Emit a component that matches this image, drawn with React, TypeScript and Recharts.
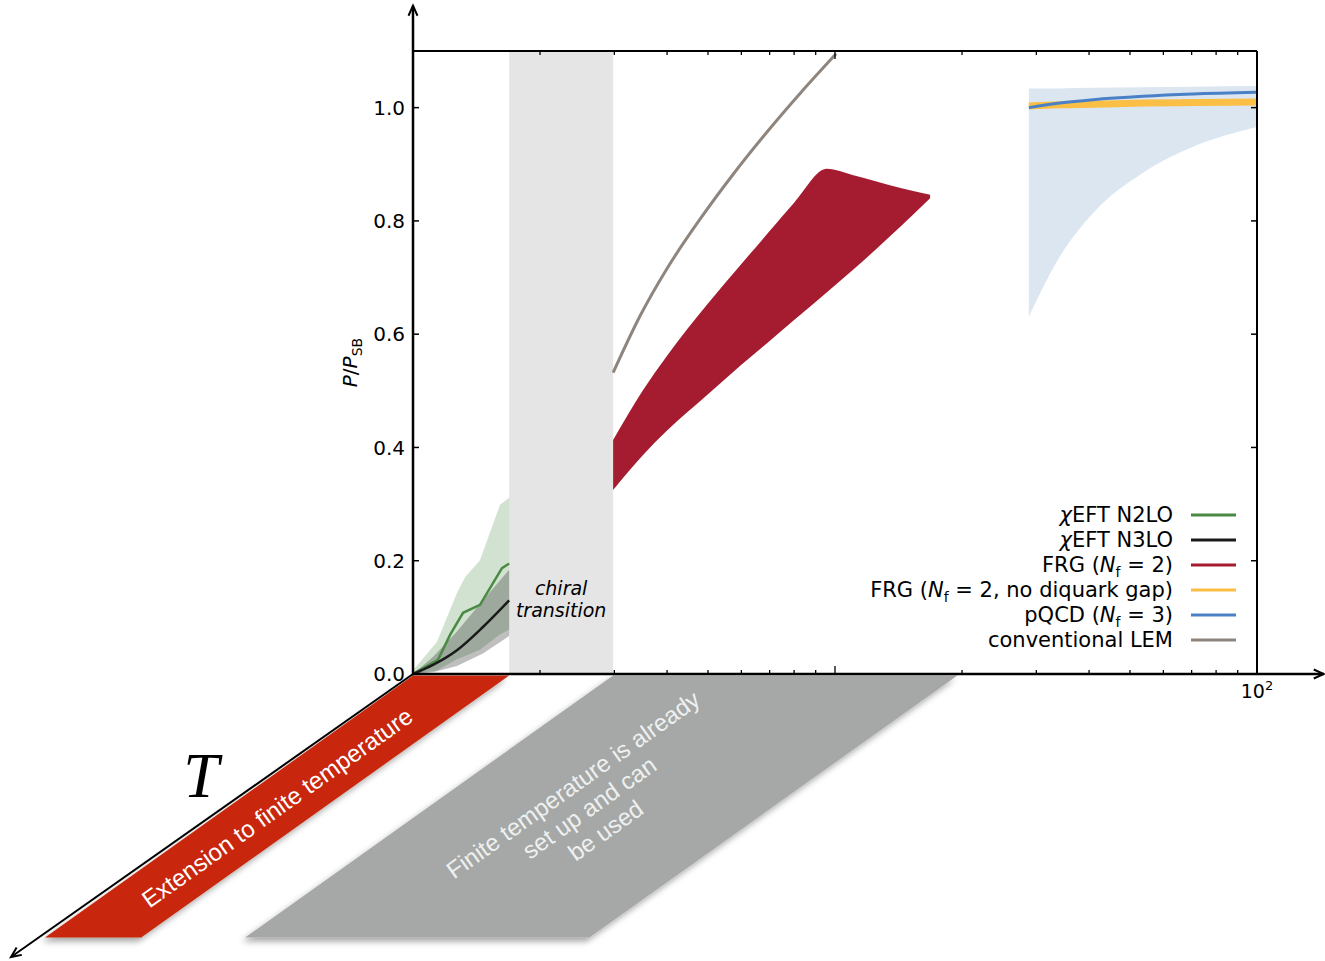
import React from "react";
import {
  Area,
  ComposedChart,
  Customized,
  Line,
  ReferenceArea,
  ReferenceDot,
  ReferenceLine,
  XAxis,
  YAxis,
} from "recharts";

const FONT = "DejaVu Sans";

// axes
const xTicks = [2, 3, 4, 5, 6, 7, 8, 9, 10, 20, 30, 40, 50, 60, 70, 80, 90, 100];
const yTicks = [0, 0.2, 0.4, 0.6, 0.8, 1.0];
const CHIRAL = [1.69, 2.98];
const RED_SLAB = [1, 1.69];
const GRAY_SLAB = [2.98, 19.5];
const SHEAR = { dx: -368, dy: 262 }; // the "T" direction of the slabs

// chiEFT N2LO
const n2loX = [1, 1.146, 1.224, 1.314, 1.441, 1.625, 1.69];
const n2loMid = [0, 0.025, 0.069, 0.108, 0.122, 0.187, 0.195];
const n2loBandX = [1, 1.14, 1.271, 1.328, 1.441, 1.608, 1.69];
const n2loLo = [0, 0.006, 0.026, 0.032, 0.043, 0.07, 0.078];
const n2loHi = [0.006, 0.057, 0.143, 0.171, 0.201, 0.299, 0.311];

// chiEFT N3LO
const n3loX = [1, 1.115, 1.271, 1.465, 1.69];
const n3loMid = [0, 0.016, 0.042, 0.083, 0.13];
const n3loLo = [0, 0.003, 0.014, 0.036, 0.067];
const n3loHi = [0, 0.03, 0.075, 0.13, 0.184];

// FRG (Nf = 2)
const frgX = [2.98, 3.5, 4, 5, 6, 7, 8, 9.57, 11, 12.6, 14.3, 16.8];
const frgLo = [0.325, 0.386, 0.43, 0.494, 0.546, 0.588, 0.625, 0.674, 0.713, 0.752, 0.79, 0.84];
const frgHi = [0.413, 0.5, 0.562, 0.654, 0.724, 0.782, 0.832, 0.892, 0.881, 0.869, 0.858, 0.846];

// conventional LEM
const lemX = [2.98, 3.451, 4.0, 4.788, 5.732, 6.901, 8.264, 10.06];
const lemY = [0.532, 0.632, 0.716, 0.803, 0.882, 0.957, 1.025, 1.095];

// pQCD (Nf = 3) and FRG without diquark gap
const pqcdX = [28.8, 34.1, 40.9, 53.7, 70.5, 100];
const pqcdLo = [0.631, 0.737, 0.814, 0.885, 0.931, 0.966];
const pqcdHi = [1.034, 1.034, 1.035, 1.036, 1.037, 1.038];
const pqcdMid = [1.0, 1.008, 1.014, 1.02, 1.024, 1.027];
const noGapY = [1.003, 1.005, 1.006, 1.008, 1.009, 1.01];

const COLORS = {
  n2lo: "#4b8a44",
  n3lo: "#1a1a1a",
  frg: "#a51c30",
  noGap: "#fbbf45",
  pqcd: "#4a81c6",
  lem: "#8f857d",
};

const line = (xs: number[], ys: number[]) => xs.map((x, i) => ({ x, y: ys[i] }));
const band = (xs: number[], lo: number[], hi: number[]) =>
  xs.map((x, i) => ({ x, v: [lo[i], hi[i]] }));

const n2loLine = line(n2loX, n2loMid);
const n2loBand = band(n2loBandX, n2loLo, n2loHi);
const n3loLine = line(n3loX, n3loMid);
const n3loBand = band(n3loX, n3loLo, n3loHi);
const frgBand = band(frgX, frgLo, frgHi);
const lemLine = line(lemX, lemY);
const pqcdBand = band(pqcdX, pqcdLo, pqcdHi);
const pqcdLine = line(pqcdX, pqcdMid);
const noGapLine = line(pqcdX, noGapY);

const isDecade = (v: number) => Math.abs(Math.log10(v) - Math.round(Math.log10(v))) < 1e-9;

function BottomTick(p: any) {
  const { x, y, payload } = p;
  const v = payload.value;
  return (
    <g>
      <line x1={x} x2={x} y1={y} y2={y - (isDecade(v) ? 8 : 4)} stroke="#000" strokeWidth={1.3} />
      {v === 100 && (
        <text x={x} y={y + 24} textAnchor="middle" fontSize={19} fontFamily={FONT} fill="#000">
          10
          <tspan dy={-8} fontSize={13}>
            2
          </tspan>
        </text>
      )}
    </g>
  );
}

function TopTick(p: any) {
  const { x, y, payload } = p;
  return <line x1={x} x2={x} y1={y} y2={y + (isDecade(payload.value) ? 8 : 4)} stroke="#000" strokeWidth={1.3} />;
}

function LeftTick(p: any) {
  const { x, y, payload } = p;
  return (
    <g>
      <line x1={x} x2={x + 6} y1={y} y2={y} stroke="#000" strokeWidth={1.5} />
      <text x={x - 8} y={y} dy="0.36em" textAnchor="end" fontSize={20} fontFamily={FONT} fill="#000">
        {payload.value.toFixed(1)}
      </text>
    </g>
  );
}

function RightTick(p: any) {
  const { x, y } = p;
  return <line x1={x} x2={x - 6} y1={y} y2={y} stroke="#000" strokeWidth={1.5} />;
}

function YLabel(p: any) {
  const vb = p.viewBox;
  const cx = vb.x + 4;
  const cy = vb.y + vb.height / 2;
  return (
    <text transform={`translate(${cx},${cy}) rotate(-90)`} textAnchor="middle" fontSize={20} fontFamily={FONT} fill="#000">
      <tspan fontStyle="italic">P</tspan>/<tspan fontStyle="italic">P</tspan>
      <tspan fontSize={14} dy={5}>
        SB
      </tspan>
    </text>
  );
}

function arrowHead(x1: number, y1: number, x2: number, y2: number, size = 11) {
  const a = Math.atan2(y2 - y1, x2 - x1);
  const s = 0.42;
  const p1 = [x2 - size * Math.cos(a - s), y2 - size * Math.sin(a - s)];
  const p2 = [x2 - size * Math.cos(a + s), y2 - size * Math.sin(a + s)];
  return `M${p1[0]},${p1[1]} L${x2},${y2} L${p2[0]},${p2[1]}`;
}

function ArrowAxis(p: any) {
  const { x1, y1, x2, y2 } = p;
  return (
    <g>
      <line x1={x1} y1={y1} x2={x2} y2={y2} stroke="#000" strokeWidth={2.5} />
      <path d={arrowHead(x1, y1, x2, y2)} fill="none" stroke="#000" strokeWidth={2} />
    </g>
  );
}

function FrameLine(p: any) {
  const { x1, y1, x2, y2 } = p;
  return <line x1={x1} y1={y1} x2={x2} y2={y2} stroke="#000" strokeWidth={2} />;
}

function TAxis(p: any) {
  const { cx, cy } = p;
  const ex = cx - 402;
  const ey = cy + 283;
  return (
    <g>
      <line x1={cx} y1={cy} x2={ex} y2={ey} stroke="#000" strokeWidth={2} />
      <path d={arrowHead(cx, cy, ex, ey)} fill="none" stroke="#000" strokeWidth={2} />
      <text x={cx - 212} y={cy + 123} textAnchor="middle" fontSize={64} fontStyle="italic" fontFamily="Liberation Serif" fill="#000">
        T
      </text>
    </g>
  );
}

const SLOPE = (Math.atan2(SHEAR.dy, -SHEAR.dx) * 180) / Math.PI;

function makeSlab(id: string, fill: string, textFill: string, lines: string[], shift: number) {
  return function Slab(p: any) {
    const { x, width } = p;
    const top = p.y + p.height + 1.5;
    const pts = [
      [x, top],
      [x + width, top],
      [x + width + SHEAR.dx, top + SHEAR.dy],
      [x + SHEAR.dx, top + SHEAR.dy],
    ];
    const cx = x + width / 2 + SHEAR.dx / 2 + shift;
    const cy = top + SHEAR.dy / 2 + 1;
    const lh = 28;
    return (
      <g>
        <defs>
          <filter id={id} x="-20%" y="-20%" width="140%" height="140%">
            <feDropShadow dx={-3} dy={4} stdDeviation={3} floodColor="#000" floodOpacity={0.35} />
          </filter>
        </defs>
        <polygon points={pts.map((q) => q.join(",")).join(" ")} fill={fill} filter={`url(#${id})`} />
        <text
          transform={`translate(${cx},${cy}) rotate(${-SLOPE})`}
          textAnchor="middle"
          fontSize={24}
          fontFamily="Liberation Sans"
          fill={textFill}
        >
          {lines.map((t, i) => (
            <tspan key={t} x={0} y={(i - (lines.length - 1) / 2) * lh} dominantBaseline="central">
              {t}
            </tspan>
          ))}
        </text>
      </g>
    );
  };
}

const RedSlab = makeSlab("shadowRed", "#c8280a", "#ffffff", ["Extension to finite temperature"], 0);
const GraySlab = makeSlab(
  "shadowGray",
  "#a5a8a7",
  "#eef0ef",
  ["Finite temperature is already", "set up and can", "be used"],
  -12
);

function ChiralBand(p: any) {
  const { x, y, width, height } = p;
  const cx = x + width / 2;
  const bottom = y + height;
  return (
    <g>
      <rect x={x} y={y} width={width} height={height} fill="#e5e5e5" />
      <text x={cx} y={bottom - 79} textAnchor="middle" fontSize={19} fontStyle="italic" fontFamily={FONT} fill="#000">
        chiral
      </text>
      <text x={cx} y={bottom - 57} textAnchor="middle" fontSize={19} fontStyle="italic" fontFamily={FONT} fill="#000">
        transition
      </text>
    </g>
  );
}

const Nf = ({ rest }: { rest: string }) => (
  <>
    <tspan fontStyle="italic">N</tspan>
    <tspan fontSize={14} dy={5}>
      f
    </tspan>
    <tspan dy={-5}>{rest}</tspan>
  </>
);

const legendLabels = [
  <>
    <tspan fontStyle="italic">χ</tspan>EFT N2LO
  </>,
  <>
    <tspan fontStyle="italic">χ</tspan>EFT N3LO
  </>,
  <>
    FRG (<Nf rest={" = 2)"} />
  </>,
  <>
    FRG (<Nf rest={" = 2, no diquark gap)"} />
  </>,
  <>
    pQCD (<Nf rest={" = 3)"} />
  </>,
  <>conventional LEM</>,
];
const legendColors = [COLORS.n2lo, COLORS.n3lo, COLORS.frg, COLORS.noGap, COLORS.pqcd, COLORS.lem];

function LegendBlock() {
  const x = 1173;
  const y0 = 515;
  return (
    <g>
      {legendLabels.map((lab, i) => (
        <g key={i}>
          <text x={x} y={y0 + i * 25 + 7} textAnchor="end" fontSize={21} fontFamily={FONT} fill="#000">
            {lab}
          </text>
          <line x1={1191} x2={1236} y1={y0 + i * 25} y2={y0 + i * 25} stroke={legendColors[i]} strokeWidth={3} />
        </g>
      ))}
    </g>
  );
}

export default function App() {
  const ax = { xAxisId: "b", yAxisId: "l" };
  return (
    <div style={{ position: "absolute", left: 0, top: 0, width: 1325, height: 961, background: "#fff" }}>
      <ComposedChart width={1325} height={961} margin={{ top: 50, right: 67, bottom: 257, left: 353 }}>
        <XAxis
          xAxisId="b"
          dataKey="x"
          type="number"
          scale="log"
          domain={[1, 100]}
          allowDataOverflow
          ticks={xTicks}
          interval={0}
          tickSize={0}
          tickMargin={0}
          axisLine={false}
          tickLine={false}
          tick={BottomTick}
          height={30}
        />
        <XAxis
          xAxisId="t"
          orientation="top"
          dataKey="x"
          type="number"
          scale="log"
          domain={[1, 100]}
          allowDataOverflow
          ticks={xTicks}
          interval={0}
          tickSize={0}
          tickMargin={0}
          axisLine={false}
          tickLine={false}
          tick={TopTick}
          height={1}
        />
        <YAxis
          yAxisId="l"
          type="number"
          domain={[0, 1.1]}
          allowDataOverflow
          ticks={yTicks}
          interval={0}
          tickSize={0}
          tickMargin={0}
          axisLine={false}
          tickLine={false}
          tick={LeftTick}
          width={60}
          label={(p: any) => <YLabel {...p} />}
        />
        <YAxis
          yAxisId="r"
          orientation="right"
          type="number"
          domain={[0, 1.1]}
          allowDataOverflow
          ticks={yTicks}
          interval={0}
          tickSize={0}
          tickMargin={0}
          axisLine={false}
          tickLine={false}
          tick={RightTick}
          width={1}
        />

        <ReferenceArea {...ax} x1={CHIRAL[0]} x2={CHIRAL[1]} y1={0} y2={1.1} shape={ChiralBand} ifOverflow="visible" />
        <ReferenceArea {...ax} x1={RED_SLAB[0]} x2={RED_SLAB[1]} y1={0} y2={0.01} shape={RedSlab} ifOverflow="visible" />
        <ReferenceArea {...ax} x1={GRAY_SLAB[0]} x2={GRAY_SLAB[1]} y1={0} y2={0.01} shape={GraySlab} ifOverflow="visible" />

        <Area {...ax} data={n2loBand} dataKey="v" type="linear" fill={COLORS.n2lo} fillOpacity={0.25} stroke="none" isAnimationActive={false} />
        <Area {...ax} data={n3loBand} dataKey="v" type="linear" fill="#000" fillOpacity={0.25} stroke="none" isAnimationActive={false} />
        <Line {...ax} data={n2loLine} dataKey="y" type="linear" stroke={COLORS.n2lo} strokeWidth={2.5} dot={false} isAnimationActive={false} />
        <Line {...ax} data={n3loLine} dataKey="y" type="monotone" stroke={COLORS.n3lo} strokeWidth={2.5} dot={false} isAnimationActive={false} />

        <Area {...ax} data={frgBand} dataKey="v" type="monotone" fill={COLORS.frg} fillOpacity={1} stroke="none" isAnimationActive={false} />
        <Line {...ax} data={lemLine} dataKey="y" type="monotone" stroke={COLORS.lem} strokeWidth={3} dot={false} isAnimationActive={false} />

        <Area {...ax} data={pqcdBand} dataKey="v" type="monotone" fill="#dbe6f1" fillOpacity={1} stroke="none" isAnimationActive={false} />
        <Line {...ax} data={noGapLine} dataKey="y" type="monotone" stroke={COLORS.noGap} strokeWidth={7} dot={false} isAnimationActive={false} />
        <Line {...ax} data={pqcdLine} dataKey="y" type="monotone" stroke={COLORS.pqcd} strokeWidth={3} dot={false} isAnimationActive={false} />

        <ReferenceLine {...ax} segment={[{ x: 1, y: 1.1 }, { x: 100, y: 1.1 }]} ifOverflow="visible" shape={FrameLine} />
        <ReferenceLine {...ax} segment={[{ x: 100, y: 0 }, { x: 100, y: 1.1 }]} ifOverflow="visible" shape={FrameLine} />
        <ReferenceLine {...ax} segment={[{ x: 1, y: -0.002 }, { x: 1, y: 1.18 }]} ifOverflow="visible" shape={ArrowAxis} />
        <ReferenceLine {...ax} segment={[{ x: 0.995, y: 0 }, { x: 144, y: 0 }]} ifOverflow="visible" shape={ArrowAxis} />
        <ReferenceDot {...ax} x={1} y={0} ifOverflow="visible" shape={TAxis} />

        <Customized component={LegendBlock} />
      </ComposedChart>
    </div>
  );
}
